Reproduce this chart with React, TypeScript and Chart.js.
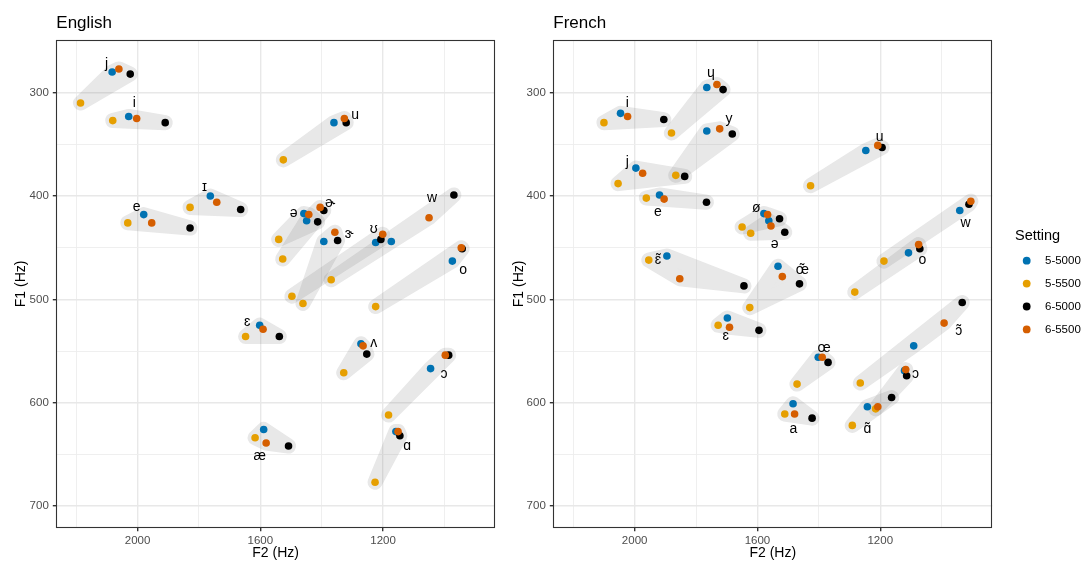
import { useEffect, useRef } from "react";
import { Chart, registerables } from "chart.js";

Chart.register(...registerables);

// Formant-estimation settings (max formants - ceiling)
const SETTINGS = ["5-5000", "5-5500", "6-5000", "6-5500"];
const SETTING_COLORS = ["#0072B2", "#E69F00", "#000000", "#D55E00"];

// Axis ranges and ticks (both axes are reversed, vowel-chart style)
const F2_MIN = 835;
const F2_MAX = 2265;
const F1_MIN = 249;
const F1_MAX = 721;
const F2_GRID = [2200, 2000, 1800, 1600, 1400, 1200, 1000];
const F2_LABELED = [2000, 1600, 1200];
const F1_GRID = [300, 350, 400, 450, 500, 550, 600, 650, 700];
const F1_LABELED = [300, 400, 500, 600, 700];

// ---------- English ----------
const EN_VOWELS = ["j", "i", "ɪ", "e", "u", "ə", "ɚ", "ɝ", "ʊ", "w", "o", "ɛ", "ʌ", "ɔ", "ɑ", "æ"];
const EN_F2_5_5000 = [2083, 2029, 1763, 1980, 1360, 1458, 1449, 1393, 1224, 1173, 974, 1602, 1272, 1045, 1158, 1589];
const EN_F1_5_5000 = [280, 323, 400, 418, 329, 417, 424, 444, 445, 444, 463, 525, 543, 567, 628, 626];
const EN_F2_5_5500 = [2186, 2081, 1829, 2032, 1525, 1540, 1527, 1461, 1497, 1369, 1224, 1648, 1328, 1182, 1226, 1617];
const EN_F1_5_5500 = [310, 327, 411, 426, 365, 442, 461, 504, 497, 481, 507, 536, 571, 612, 677, 634];
const EN_F2_6_5000 = [2024, 1910, 1664, 1829, 1320, 1413, 1393, 1348, 1207, 969, 942, 1538, 1253, 986, 1145, 1508];
const EN_F1_6_5000 = [282, 329, 413, 431, 329, 425, 414, 443, 442, 399, 451, 536, 553, 554, 632, 642];
const EN_F2_6_5500 = [2061, 2003, 1742, 1954, 1326, 1442, 1405, 1357, 1201, 1050, 945, 1591, 1265, 997, 1151, 1581];
const EN_F1_6_5500 = [277, 325, 406, 426, 325, 418, 411, 435, 437, 421, 450, 529, 545, 554, 628, 639];
const EN_LABEL_F2 = [2101, 2011, 1782, 2003, 1291, 1491, 1372, 1310, 1230, 1040, 939, 1643, 1230, 1001, 1121, 1602];
const EN_LABEL_F1 = [272, 310, 391, 411, 322, 417, 407, 437, 432, 402, 472, 522, 542, 572, 642, 652];

// ---------- French ----------
const FR_VOWELS = [
  "ɥ", "i", "y", "j", "e", "ø", "ə", "u", "w", "o",
  "ɛ\u0303", "ɛ", "œ\u0303", "œ", "ɔ\u0303", "ɔ", "ɑ\u0303", "a",
];
const FR_F2_5_5000 = [1765, 2046, 1765, 1996, 1919, 1579, 1563, 1247, 941, 1108, 1895, 1698, 1533, 1402, 1091, 1121, 1242, 1484];
const FR_F1_5_5000 = [295, 320, 337, 373, 399, 417, 424, 356, 414, 455, 458, 518, 468, 556, 545, 569, 604, 601];
const FR_F2_5_5500 = [1880, 2100, 1866, 2054, 1962, 1650, 1622, 1427, 1188, 1283, 1954, 1728, 1625, 1471, 1265, 1215, 1291, 1511];
const FR_F1_5_5500 = [339, 329, 380, 388, 402, 430, 436, 390, 463, 493, 462, 525, 508, 582, 581, 606, 622, 611];
const FR_F2_6_5000 = [1712, 1905, 1682, 1837, 1766, 1528, 1511, 1194, 911, 1071, 1644, 1595, 1463, 1370, 933, 1114, 1163, 1422];
const FR_F1_6_5000 = [297, 326, 340, 381, 406, 422, 435, 353, 408, 451, 487, 530, 485, 561, 503, 574, 595, 615];
const FR_F2_6_5500 = [1732, 2023, 1723, 1974, 1904, 1567, 1556, 1208, 905, 1075, 1853, 1691, 1519, 1389, 992, 1117, 1208, 1479];
const FR_F1_6_5500 = [292, 323, 335, 378, 403, 418, 429, 351, 405, 447, 480, 527, 478, 556, 523, 568, 604, 611];
const FR_LABEL_F2 = [1752, 2024, 1693, 2024, 1924, 1604, 1544, 1202, 922, 1063, 1924, 1703, 1454, 1383, 944, 1085, 1242, 1483];
const FR_LABEL_F1 = [281, 310, 326, 367, 416, 412, 447, 343, 426, 462, 462, 536, 472, 547, 531, 572, 626, 626];

const FONT = "'Liberation Sans', Arial, 'DejaVu Sans', sans-serif";
Chart.defaults.font.family = FONT;

type Panel = {
  title: string;
  vowels: string[];
  f2: number[][];
  f1: number[][];
  labelF2: number[];
  labelF1: number[];
  width: number;
  axisWidth: number;
  padRight: number;
  yTitlePad: number;
  legend: boolean;
};

function convexHull(points: number[][]): number[][] {
  const p = points.slice().sort((a, b) => a[0] - b[0] || a[1] - b[1]);
  if (p.length < 3) return p;
  const cross = (o: number[], a: number[], b: number[]) =>
    (a[0] - o[0]) * (b[1] - o[1]) - (a[1] - o[1]) * (b[0] - o[0]);
  const lower: number[][] = [];
  for (const pt of p) {
    while (lower.length >= 2 && cross(lower[lower.length - 2], lower[lower.length - 1], pt) <= 0) lower.pop();
    lower.push(pt);
  }
  const upper: number[][] = [];
  for (let i = p.length - 1; i >= 0; i--) {
    const pt = p[i];
    while (upper.length >= 2 && cross(upper[upper.length - 2], upper[upper.length - 1], pt) <= 0) upper.pop();
    upper.push(pt);
  }
  upper.pop();
  lower.pop();
  return lower.concat(upper);
}

function panelPlugin(panel: Panel) {
  return {
    id: "vowelPanel",
    beforeDatasetsDraw(chart: any) {
      const { ctx, chartArea, scales } = chart;
      const off = document.createElement("canvas");
      off.width = chart.width;
      off.height = chart.height;
      const octx = off.getContext("2d")!;
      ctx.save();
      ctx.beginPath();
      ctx.rect(chartArea.left, chartArea.top, chartArea.right - chartArea.left, chartArea.bottom - chartArea.top);
      ctx.clip();
      // one translucent hull per vowel, composited so overlaps darken
      panel.vowels.forEach((_, i) => {
        const pts = SETTINGS.map((__, k) => [
          scales.x.getPixelForValue(panel.f2[k][i]),
          scales.y.getPixelForValue(panel.f1[k][i]),
        ]);
        const hull = convexHull(pts);
        octx.clearRect(0, 0, off.width, off.height);
        octx.fillStyle = "#6e6e6e";
        octx.strokeStyle = "#6e6e6e";
        octx.lineWidth = 15;
        octx.lineJoin = "round";
        octx.lineCap = "round";
        octx.beginPath();
        hull.forEach(([x, y], j) => (j ? octx.lineTo(x, y) : octx.moveTo(x, y)));
        octx.closePath();
        octx.fill();
        octx.stroke();
        ctx.globalAlpha = 0.16;
        ctx.drawImage(off, 0, 0);
      });
      ctx.restore();
    },
    afterDatasetsDraw(chart: any) {
      const { ctx, chartArea, scales } = chart;
      ctx.save();
      ctx.fillStyle = "#000";
      ctx.font = `14px ${FONT}`;
      ctx.textAlign = "center";
      ctx.textBaseline = "middle";
      panel.vowels.forEach((v, i) => {
        ctx.fillText(v, scales.x.getPixelForValue(panel.labelF2[i]), scales.y.getPixelForValue(panel.labelF1[i]));
      });
      // panel border
      ctx.strokeStyle = "#333333";
      ctx.lineWidth = 1.1;
      const l = Math.round(chartArea.left) + 0.5;
      const t = Math.round(chartArea.top) + 0.5;
      const r = Math.round(chartArea.right) - 0.5;
      const b = Math.round(chartArea.bottom) - 0.5;
      ctx.strokeRect(l, t, r - l, b - t);
      ctx.restore();
    },
    afterDraw(chart: any) {
      const { ctx, chartArea } = chart;
      ctx.save();
      ctx.fillStyle = "#000";
      ctx.textAlign = "left";
      ctx.textBaseline = "alphabetic";
      ctx.font = `17px ${FONT}`;
      ctx.fillText(panel.title, chartArea.left, 28);
      if (panel.legend) {
        const lx = chartArea.right + 22.7;
        ctx.font = `14.5px ${FONT}`;
        ctx.fillText("Setting", lx, 239.5);
        ctx.font = `11.5px ${FONT}`;
        ctx.textBaseline = "middle";
        SETTINGS.forEach((s, k) => {
          const y = 260.7 + k * 22.9;
          ctx.fillStyle = SETTING_COLORS[k];
          ctx.beginPath();
          ctx.arc(lx + 11.7, y, 3.9, 0, Math.PI * 2);
          ctx.fill();
          ctx.fillStyle = "#000";
          ctx.fillText(s, lx + 30, y + 0.5);
        });
      }
      ctx.restore();
    },
  };
}

function buildChart(canvas: HTMLCanvasElement, panel: Panel) {
  const datasets = SETTINGS.map((s, k) => ({
    label: s,
    data: panel.vowels.map((_, i) => ({ x: panel.f2[k][i], y: panel.f1[k][i] })),
    backgroundColor: SETTING_COLORS[k],
    borderWidth: 0,
    pointRadius: 3.8,
    pointHoverRadius: 3.8,
    order: SETTINGS.length - k,
  }));
  return new Chart(canvas, {
    type: "scatter",
    data: { datasets },
    plugins: [panelPlugin(panel)],
    options: {
      responsive: false,
      maintainAspectRatio: false,
      animation: false,
      events: [],
      layout: { padding: { left: 0, right: panel.padRight, top: 40, bottom: 0 } },
      plugins: { legend: { display: false }, tooltip: { enabled: false }, title: { display: false } },
      scales: {
        x: {
          type: "linear",
          reverse: true,
          min: F2_MIN,
          max: F2_MAX,
          afterBuildTicks: (s: any) => {
            s.ticks = F2_GRID.map((value) => ({ value }));
          },
          afterFit: (s: any) => {
            s.height = 564 - 527.7;
          },
          ticks: {
            autoSkip: false,
            maxRotation: 0,
            minRotation: 0,
            padding: 2.5,
            color: "#4D4D4D",
            font: { size: 11.5 },
            callback: (v: any) => (F2_LABELED.includes(v) ? String(v) : ""),
          },
          grid: {
            color: (c: any) => (c.tick && F2_LABELED.includes(c.tick.value) ? "#E8E8E8" : "#EDEDED"),
            lineWidth: (c: any) => (c.tick && F2_LABELED.includes(c.tick.value) ? 1.4 : 0.9),
            tickColor: (c: any) => (c.tick && F2_LABELED.includes(c.tick.value) ? "#333333" : "rgba(0,0,0,0)"),
            tickLength: 3.5,
          },
          border: { display: false },
          title: {
            display: true,
            text: "F2 (Hz)",
            color: "#000",
            font: { size: 14 },
            padding: { top: 0, bottom: 2.6 },
          },
        },
        y: {
          type: "linear",
          reverse: true,
          min: F1_MIN,
          max: F1_MAX,
          afterBuildTicks: (s: any) => {
            s.ticks = F1_GRID.map((value) => ({ value }));
          },
          afterFit: (s: any) => {
            s.width = panel.axisWidth;
          },
          ticks: {
            autoSkip: false,
            padding: 4,
            color: "#4D4D4D",
            font: { size: 11.5 },
            callback: (v: any) => (F1_LABELED.includes(v) ? String(v) : ""),
          },
          grid: {
            color: (c: any) => (c.tick && F1_LABELED.includes(c.tick.value) ? "#E8E8E8" : "#EDEDED"),
            lineWidth: (c: any) => (c.tick && F1_LABELED.includes(c.tick.value) ? 1.4 : 0.9),
            tickColor: (c: any) => (c.tick && F1_LABELED.includes(c.tick.value) ? "#333333" : "rgba(0,0,0,0)"),
            tickLength: 3.5,
          },
          border: { display: false },
          title: {
            display: true,
            text: "F1 (Hz)",
            color: "#000",
            font: { size: 14 },
            padding: { top: panel.yTitlePad, bottom: 0 },
          },
        },
      },
    },
  } as any);
}

const ENGLISH: Panel = {
  title: "English",
  vowels: EN_VOWELS,
  f2: [EN_F2_5_5000, EN_F2_5_5500, EN_F2_6_5000, EN_F2_6_5500],
  f1: [EN_F1_5_5000, EN_F1_5_5500, EN_F1_6_5000, EN_F1_6_5500],
  labelF2: EN_LABEL_F2,
  labelF1: EN_LABEL_F1,
  width: 500,
  axisWidth: 56.3,
  padRight: 5,
  yTitlePad: 12.5,
  legend: false,
};

const FRENCH: Panel = {
  title: "French",
  vowels: FR_VOWELS,
  f2: [FR_F2_5_5000, FR_F2_5_5500, FR_F2_6_5000, FR_F2_6_5500],
  f1: [FR_F1_5_5000, FR_F1_5_5500, FR_F1_6_5000, FR_F1_6_5500],
  labelF2: FR_LABEL_F2,
  labelF1: FR_LABEL_F1,
  width: 584,
  axisWidth: 53.3,
  padRight: 584 - 492.3,
  yTitlePad: 10.5,
  legend: true,
};

function PanelCanvas({ panel, left }: { panel: Panel; left: number }) {
  const ref = useRef<HTMLCanvasElement | null>(null);
  useEffect(() => {
    if (!ref.current) return;
    const chart = buildChart(ref.current, panel);
    return () => chart.destroy();
  }, [panel]);
  return (
    <canvas
      ref={ref}
      width={panel.width}
      height={564}
      style={{ position: "absolute", left, top: 0, width: panel.width, height: 564 }}
    />
  );
}

export default function App() {
  return (
    <div style={{ position: "absolute", left: 0, top: 0, width: 1084, height: 564, background: "#fff", overflow: "hidden" }}>
      <PanelCanvas panel={ENGLISH} left={0} />
      <PanelCanvas panel={FRENCH} left={500} />
    </div>
  );
}
